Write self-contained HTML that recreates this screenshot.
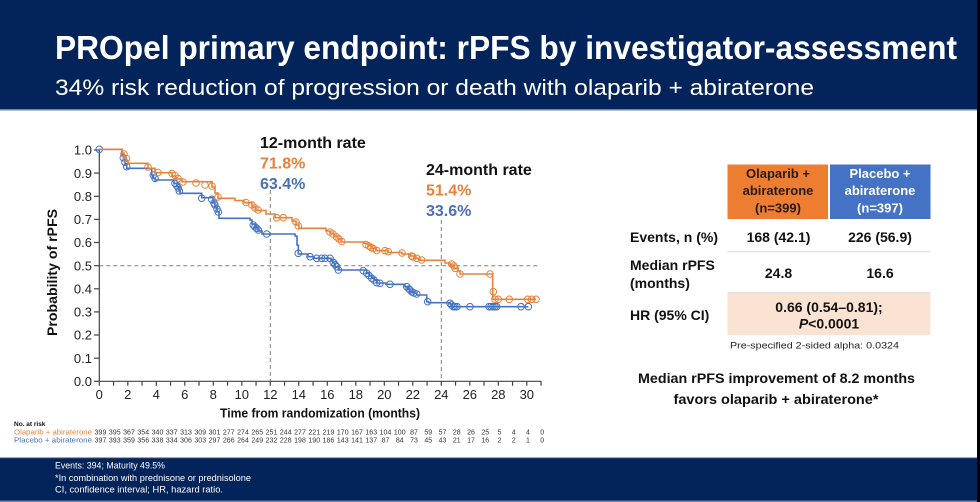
<!DOCTYPE html>
<html>
<head>
<meta charset="utf-8">
<style>
html,body{margin:0;padding:0;background:#fff;}
body{width:980px;height:502px;overflow:hidden;}
svg{display:block;font-family:"Liberation Sans",Arial,sans-serif;}
</style>
</head>
<body>
<svg width="980" height="502" viewBox="0 0 980 502" xmlns="http://www.w3.org/2000/svg">
  <rect x="0" y="0" width="980" height="502" fill="#ffffff"/>
  <!-- header -->
  <rect x="0" y="0" width="980" height="109" fill="#03245A"/>
  <rect x="0" y="109" width="980" height="1.5" fill="#6f829f"/>
  <text x="55" y="59" font-size="33" font-weight="bold" fill="#ffffff" textLength="902" lengthAdjust="spacingAndGlyphs">PROpel primary endpoint: rPFS by investigator-assessment</text>
  <text x="55" y="95" font-size="22" fill="#ffffff" textLength="759" lengthAdjust="spacingAndGlyphs">34% risk reduction of progression or death with olaparib + abiraterone</text>

  <!-- footer -->
  <rect x="0" y="458" width="980" height="44" fill="#03245A"/>
  <rect x="0" y="457.5" width="980" height="1" fill="#3b4f73"/>
  <rect x="0" y="500.5" width="980" height="1.5" fill="#6f829f"/>
  <text x="55" y="468.5" font-size="9" fill="#ffffff" textLength="110" lengthAdjust="spacingAndGlyphs">Events: 394; Maturity 49.5%</text>
  <text x="55" y="481" font-size="9" fill="#ffffff" textLength="196" lengthAdjust="spacingAndGlyphs">*In combination with prednisone or prednisolone</text>
  <text x="55" y="492.5" font-size="9" fill="#ffffff" textLength="168" lengthAdjust="spacingAndGlyphs">CI, confidence interval; HR, hazard ratio.</text>

  <!-- right black strip -->
  <rect x="977" y="0" width="3" height="502" fill="#000000"/>

  <!-- dashed reference lines -->
  <g stroke="#808080" stroke-width="1" stroke-dasharray="4,3" fill="none">
    <line x1="99.3" y1="265.7" x2="540" y2="265.7"/>
    <line x1="270.3" y1="190" x2="270.3" y2="381"/>
    <line x1="441.3" y1="220" x2="441.3" y2="381"/>
  </g>

  <!-- axes -->
  <g stroke="#444" stroke-width="1.2" fill="none">
    <line x1="99.3" y1="149.5" x2="99.3" y2="381.3"/>
    <line x1="99.3" y1="381.3" x2="541.5" y2="381.3"/>
    <!-- y ticks -->
    <line x1="94" y1="381.3" x2="99.3" y2="381.3"/>
    <line x1="94" y1="358.2" x2="99.3" y2="358.2"/>
    <line x1="94" y1="335.0" x2="99.3" y2="335.0"/>
    <line x1="94" y1="311.9" x2="99.3" y2="311.9"/>
    <line x1="94" y1="288.8" x2="99.3" y2="288.8"/>
    <line x1="94" y1="265.7" x2="99.3" y2="265.7"/>
    <line x1="94" y1="242.5" x2="99.3" y2="242.5"/>
    <line x1="94" y1="219.4" x2="99.3" y2="219.4"/>
    <line x1="94" y1="196.3" x2="99.3" y2="196.3"/>
    <line x1="94" y1="173.1" x2="99.3" y2="173.1"/>
    <line x1="94" y1="150.0" x2="99.3" y2="150.0"/>
    <!-- x ticks -->
    <path d="M99.3 381.3v4.5 M113.55 381.3v4.5 M127.8 381.3v4.5 M142.05 381.3v4.5 M156.3 381.3v4.5 M170.55 381.3v4.5 M184.8 381.3v4.5 M199.05 381.3v4.5 M213.3 381.3v4.5 M227.55 381.3v4.5 M241.8 381.3v4.5 M256.05 381.3v4.5 M270.3 381.3v4.5 M284.55 381.3v4.5 M298.8 381.3v4.5 M313.05 381.3v4.5 M327.3 381.3v4.5 M341.55 381.3v4.5 M355.8 381.3v4.5 M370.05 381.3v4.5 M384.3 381.3v4.5 M398.55 381.3v4.5 M412.8 381.3v4.5 M427.05 381.3v4.5 M441.3 381.3v4.5 M455.55 381.3v4.5 M469.8 381.3v4.5 M484.05 381.3v4.5 M498.3 381.3v4.5 M512.55 381.3v4.5 M526.8 381.3v4.5 M541.05 381.3v4.5"/>
  </g>

  <!-- y labels -->
  <g font-size="13" fill="#222" text-anchor="end">
    <text x="92" y="386">0.0</text>
    <text x="92" y="362.9">0.1</text>
    <text x="92" y="339.7">0.2</text>
    <text x="92" y="316.6">0.3</text>
    <text x="92" y="293.5">0.4</text>
    <text x="92" y="270.4">0.5</text>
    <text x="92" y="247.2">0.6</text>
    <text x="92" y="224.1">0.7</text>
    <text x="92" y="201">0.8</text>
    <text x="92" y="177.8">0.9</text>
    <text x="92" y="154.7">1.0</text>
  </g>
  <!-- x labels -->
  <g font-size="13" fill="#222" text-anchor="middle">
    <text x="99.3" y="399">0</text>
    <text x="127.8" y="399">2</text>
    <text x="156.3" y="399">4</text>
    <text x="184.8" y="399">6</text>
    <text x="213.3" y="399">8</text>
    <text x="241.8" y="399">10</text>
    <text x="270.3" y="399">12</text>
    <text x="298.8" y="399">14</text>
    <text x="327.3" y="399">16</text>
    <text x="355.8" y="399">18</text>
    <text x="384.3" y="399">20</text>
    <text x="412.8" y="399">22</text>
    <text x="441.3" y="399">24</text>
    <text x="469.8" y="399">26</text>
    <text x="498.3" y="399">28</text>
    <text x="526.8" y="399">30</text>
  </g>
  <text x="320" y="417.5" font-size="12.5" font-weight="bold" fill="#111" text-anchor="middle" textLength="200" lengthAdjust="spacingAndGlyphs">Time from randomization (months)</text>
  <text transform="translate(57,272.5) rotate(-90)" font-size="14" font-weight="bold" fill="#111" text-anchor="middle" textLength="127" lengthAdjust="spacingAndGlyphs">Probability of rPFS</text>

  <!-- annotations -->
  <g font-size="16" font-weight="bold">
    <text x="260" y="148" fill="#111">12-month rate</text>
    <text x="260" y="168.5" fill="#E8823A">71.8%</text>
    <text x="260" y="189" fill="#4A70B8">63.4%</text>
    <text x="426" y="175" fill="#111">24-month rate</text>
    <text x="426" y="195.5" fill="#E8823A">51.4%</text>
    <text x="426" y="216" fill="#4A70B8">33.6%</text>
  </g>

  <!-- placebo (blue) curve -->
  <path fill="none" stroke="#4472C4" stroke-width="1.6" d="M99.3,149.3 H122 V155 H123.5 V160 H125 V164 H126.7 V168.3 H151.7 V175 H153.3 V178.3 H155 V180 H174 V183.3 H177 V186.7 H179 V190 H180 V193.3 H201.7 V197.7 H213 V203 H215 V207 H217 V211.7 H219 V218.3 H250 V220 H252 V224 H255 V228 H258 V231 H262 V234 H295 V236 H297 V245 H298.3 V254 H308 V256.7 H314 V258.3 H331 V260 H333 V263 H335 V266.7 H338.3 V270 H366.7 V273.3 H369 V276 H371.7 V278.3 H374 V280.5 H376.7 V283 H386 V284.3 H405 V286.7 H408 V289 H410 V291.5 H413 V293 H416.7 V295 H426.7 V301.7 H428.5 V302.7 H450 V304 H452 V306.7 H528.3"/>
  <g fill="none" stroke="#4472C4" stroke-width="1">
    <circle cx="99.3" cy="149.3" r="3.3"/>
    <circle cx="123.3" cy="157.7" r="3.3"/><circle cx="125" cy="162.3" r="3.3"/><circle cx="126.7" cy="166.7" r="3.3"/>
    <circle cx="153.3" cy="175" r="3.3"/><circle cx="155" cy="178.3" r="3.3"/>
    <circle cx="175" cy="183.3" r="3.3"/><circle cx="177" cy="186" r="3.3"/><circle cx="178.3" cy="188" r="3.3"/><circle cx="179.3" cy="191" r="3.3"/>
    <circle cx="201.7" cy="198.3" r="3.3"/><circle cx="211.7" cy="199.3" r="3.3"/>
    <circle cx="214" cy="203" r="3.3"/><circle cx="215" cy="205" r="3.3"/><circle cx="217" cy="209" r="3.3"/><circle cx="218.3" cy="212" r="3.3"/>
    <circle cx="253.3" cy="225" r="3.3"/><circle cx="255" cy="227" r="3.3"/><circle cx="256.7" cy="228.3" r="3.3"/><circle cx="258.3" cy="230" r="3.3"/>
    <circle cx="266.7" cy="234" r="3.3"/>
    <circle cx="298.3" cy="253.3" r="3.3"/><circle cx="310" cy="256.7" r="3.3"/><circle cx="316.7" cy="258.3" r="3.3"/><circle cx="321.7" cy="258.3" r="3.3"/>
    <circle cx="325" cy="258.3" r="3.3"/><circle cx="330" cy="258.3" r="3.3"/>
    <circle cx="333.3" cy="262.3" r="3.3"/><circle cx="335" cy="264.5" r="3.3"/><circle cx="336.7" cy="266.7" r="3.3"/><circle cx="338.3" cy="270" r="3.3"/>
    <circle cx="363.3" cy="270.7" r="3.3"/><circle cx="366.7" cy="273.3" r="3.3"/><circle cx="369" cy="275.5" r="3.3"/><circle cx="371.7" cy="278.3" r="3.3"/>
    <circle cx="374" cy="280" r="3.3"/><circle cx="376.7" cy="282.7" r="3.3"/><circle cx="380" cy="283.3" r="3.3"/><circle cx="390" cy="284.3" r="3.3"/>
    <circle cx="406.7" cy="286.7" r="3.3"/><circle cx="409" cy="289" r="3.3"/><circle cx="410" cy="290" r="3.3"/><circle cx="412" cy="292" r="3.3"/>
    <circle cx="414" cy="293" r="3.3"/><circle cx="416.7" cy="294" r="3.3"/>
    <circle cx="427.7" cy="301.7" r="3.3"/>
    <circle cx="450" cy="303.3" r="3.3"/><circle cx="451.5" cy="305" r="3.3"/><circle cx="453.3" cy="306.7" r="3.3"/><circle cx="455" cy="306.7" r="3.3"/><circle cx="457" cy="306.7" r="3.3"/>
    <circle cx="470" cy="306.7" r="3.3"/>
    <circle cx="489" cy="306.7" r="3.3"/><circle cx="491" cy="306.7" r="3.3"/><circle cx="493" cy="306.7" r="3.3"/><circle cx="495" cy="306.7" r="3.3"/><circle cx="496.7" cy="306.7" r="3.3"/>
    <circle cx="521" cy="306.7" r="3.3"/><circle cx="528.3" cy="306.7" r="3.3"/>
  </g>

  <!-- olaparib (orange) curve -->
  <path fill="none" stroke="#E8823A" stroke-width="1.6" d="M99.3,149.3 H122 V153 H124 V157 H126 V161 H128 V163.3 H148 V168.3 H155 V172.7 H172 V176 H176 V179 H182 V181.7 H212 V187 H215 V193 H218 V198.3 H235 V200.5 H244 V202.7 H252 V207 H256 V210.5 H266 V214 H275 V217.7 H292 V221 H296 V225 H299 V228.3 H326 V231 H330 V233.3 H334 V236 H338 V239 H341 V242 H364 V243.3 H368 V245.5 H372 V248.3 H376 V250.7 H388 V252.5 H402 V254 H410 V256 H415 V258.3 H420 V260.3 H445 V263 H450 V265 H454 V268.3 H458 V271 H460 V274 H492.7 V299.3 H536"/>
  <g fill="none" stroke="#E8823A" stroke-width="1">
    <circle cx="124" cy="154" r="3.3"/><circle cx="126.5" cy="158.5" r="3.3"/>
    <circle cx="148" cy="167" r="3.3"/><circle cx="158" cy="172.5" r="3.3"/><circle cx="172" cy="173.5" r="3.3"/><circle cx="175" cy="175.5" r="3.3"/><circle cx="178" cy="178.5" r="3.3"/>
    <circle cx="183" cy="182" r="3.3"/><circle cx="196" cy="183" r="3.3"/><circle cx="205" cy="185" r="3.3"/><circle cx="212" cy="186" r="3.3"/>
    <circle cx="218" cy="197" r="3.3"/><circle cx="246" cy="202.5" r="3.3"/><circle cx="252" cy="205" r="3.3"/><circle cx="255" cy="208" r="3.3"/><circle cx="258" cy="210" r="3.3"/>
    <circle cx="276.7" cy="217.7" r="3.3"/><circle cx="283.3" cy="217.7" r="3.3"/><circle cx="296" cy="222" r="3.3"/><circle cx="298.3" cy="226" r="3.3"/>
    <circle cx="330" cy="232" r="3.3"/><circle cx="333" cy="234" r="3.3"/><circle cx="336.7" cy="237" r="3.3"/><circle cx="339" cy="239" r="3.3"/><circle cx="341.7" cy="241.5" r="3.3"/>
    <circle cx="366" cy="244.5" r="3.3"/><circle cx="369" cy="246" r="3.3"/><circle cx="371" cy="247.5" r="3.3"/><circle cx="373.3" cy="248.5" r="3.3"/><circle cx="376.7" cy="250.5" r="3.3"/>
    <circle cx="385" cy="250.7" r="3.3"/><circle cx="388.3" cy="251.7" r="3.3"/><circle cx="402" cy="253" r="3.3"/>
    <circle cx="411.7" cy="256" r="3.3"/><circle cx="413" cy="257" r="3.3"/><circle cx="416.7" cy="258.3" r="3.3"/><circle cx="421.7" cy="260" r="3.3"/>
    <circle cx="451.7" cy="264" r="3.3"/><circle cx="454" cy="266" r="3.3"/><circle cx="455" cy="268.3" r="3.3"/><circle cx="460" cy="274" r="3.3"/>
    <circle cx="490" cy="274" r="3.3"/><circle cx="493.3" cy="291.7" r="3.3"/><circle cx="495" cy="299.3" r="3.3"/><circle cx="498.3" cy="299.3" r="3.3"/>
    <circle cx="509.3" cy="299.3" r="3.3"/><circle cx="527.7" cy="299.3" r="3.3"/><circle cx="531.7" cy="299.3" r="3.3"/><circle cx="536" cy="299.3" r="3.3"/>
  </g>

  <!-- number at risk -->
  <text x="14" y="426" font-size="6.5" font-weight="bold" fill="#111">No. at risk</text>
  <text x="92" y="434.5" font-size="7" fill="#E8823A" text-anchor="end" textLength="78" lengthAdjust="spacingAndGlyphs">Olaparib + abiraterone</text>
  <text x="92" y="442.5" font-size="7" fill="#4A70B8" text-anchor="end" textLength="78" lengthAdjust="spacingAndGlyphs">Placebo + abiraterone</text>
  <g font-size="7" fill="#333" text-anchor="middle">
    <text x="100.5" y="434.5">399</text><text x="114.75" y="434.5">395</text><text x="129" y="434.5">367</text><text x="143.25" y="434.5">354</text>
    <text x="157.5" y="434.5">340</text><text x="171.75" y="434.5">337</text><text x="186" y="434.5">313</text><text x="200.25" y="434.5">309</text>
    <text x="214.5" y="434.5">301</text><text x="228.75" y="434.5">277</text><text x="243" y="434.5">274</text><text x="257.25" y="434.5">265</text>
    <text x="271.5" y="434.5">251</text><text x="285.75" y="434.5">244</text><text x="300" y="434.5">277</text><text x="314.25" y="434.5">221</text>
    <text x="328.5" y="434.5">219</text><text x="342.75" y="434.5">170</text><text x="357" y="434.5">167</text><text x="371.25" y="434.5">163</text>
    <text x="385.5" y="434.5">104</text><text x="399.75" y="434.5">100</text><text x="414" y="434.5">87</text><text x="428.25" y="434.5">59</text>
    <text x="442.5" y="434.5">57</text><text x="456.75" y="434.5">28</text><text x="471" y="434.5">26</text><text x="485.25" y="434.5">25</text>
    <text x="499.5" y="434.5">5</text><text x="513.75" y="434.5">4</text><text x="528" y="434.5">4</text><text x="542.25" y="434.5">0</text>

    <text x="100.5" y="442.5">397</text><text x="114.75" y="442.5">393</text><text x="129" y="442.5">359</text><text x="143.25" y="442.5">356</text>
    <text x="157.5" y="442.5">338</text><text x="171.75" y="442.5">334</text><text x="186" y="442.5">306</text><text x="200.25" y="442.5">303</text>
    <text x="214.5" y="442.5">297</text><text x="228.75" y="442.5">266</text><text x="243" y="442.5">264</text><text x="257.25" y="442.5">249</text>
    <text x="271.5" y="442.5">232</text><text x="285.75" y="442.5">228</text><text x="300" y="442.5">198</text><text x="314.25" y="442.5">190</text>
    <text x="328.5" y="442.5">186</text><text x="342.75" y="442.5">143</text><text x="357" y="442.5">141</text><text x="371.25" y="442.5">137</text>
    <text x="385.5" y="442.5">87</text><text x="399.75" y="442.5">84</text><text x="414" y="442.5">73</text><text x="428.25" y="442.5">45</text>
    <text x="442.5" y="442.5">43</text><text x="456.75" y="442.5">21</text><text x="471" y="442.5">17</text><text x="485.25" y="442.5">16</text>
    <text x="499.5" y="442.5">2</text><text x="513.75" y="442.5">2</text><text x="528" y="442.5">1</text><text x="542.25" y="442.5">0</text>
  </g>

  <!-- results table -->
  <rect x="727.5" y="164.5" width="100.5" height="54.5" fill="#ED7D31"/>
  <rect x="830" y="164.5" width="100.5" height="54.5" fill="#4472C4"/>
  <g font-size="13" font-weight="bold" text-anchor="middle">
    <text x="778" y="178" fill="#2a1a10">Olaparib +</text>
    <text x="778" y="195" fill="#2a1a10">abiraterone</text>
    <text x="778" y="212.5" fill="#2a1a10">(n=399)</text>
    <text x="880" y="178" fill="#ffffff">Placebo +</text>
    <text x="880" y="195" fill="#ffffff">abiraterone</text>
    <text x="880" y="212.5" fill="#ffffff">(n=397)</text>
  </g>
  <rect x="727.5" y="293" width="203" height="42" fill="#FBE3D4"/>
  <line x1="727.5" y1="251.7" x2="930.5" y2="251.7" stroke="#d8d8d8" stroke-width="1"/>
  <line x1="727.5" y1="292.7" x2="930.5" y2="292.7" stroke="#d8d8d8" stroke-width="1"/>
  <g font-size="14" font-weight="bold" fill="#111">
    <text x="630" y="242" textLength="88" lengthAdjust="spacingAndGlyphs">Events, n (%)</text>
    <text x="630" y="270">Median rPFS</text>
    <text x="630" y="288">(months)</text>
    <text x="630" y="320">HR (95% CI)</text>
  </g>
  <g font-size="14" font-weight="bold" fill="#111" text-anchor="middle">
    <text x="778.5" y="242">168 (42.1)</text>
    <text x="880" y="242">226 (56.9)</text>
    <text x="778.5" y="278">24.8</text>
    <text x="880" y="278">16.6</text>
    <text x="829" y="312">0.66 (0.54–0.81);</text>
    <text x="829" y="328.5"><tspan font-style="italic">P</tspan>&lt;0.0001</text>
  </g>
  <text x="730" y="348.5" font-size="9" fill="#222" textLength="169" lengthAdjust="spacingAndGlyphs">Pre-specified 2-sided alpha: 0.0324</text>

  <g font-size="13.5" font-weight="bold" fill="#111" text-anchor="middle">
    <text x="776.5" y="383" textLength="277" lengthAdjust="spacingAndGlyphs">Median rPFS improvement of 8.2 months</text>
    <text x="776" y="404" textLength="205" lengthAdjust="spacingAndGlyphs">favors olaparib + abiraterone*</text>
  </g>
</svg>
</body>
</html>
